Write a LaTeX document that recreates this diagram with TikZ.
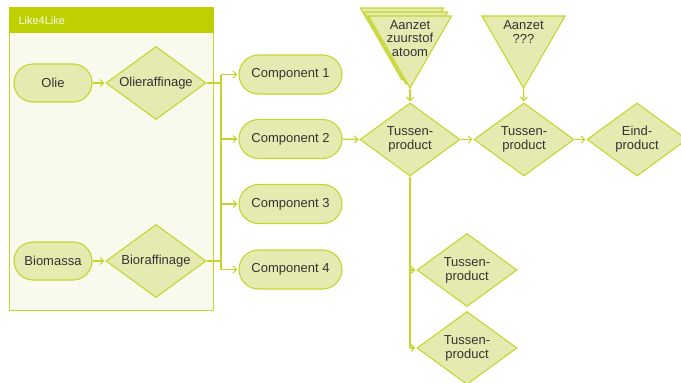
\documentclass[tikz,border=0pt]{standalone}
\usepackage{fontspec}
\setmainfont{Liberation Sans}
\usetikzlibrary{shapes.geometric,arrows.meta}
\definecolor{lime}{HTML}{C6D52E}
\definecolor{limefill}{HTML}{E5EBB0}
\definecolor{header}{HTML}{BFD000}
\definecolor{panel}{HTML}{F9FAEE}
\definecolor{ink}{HTML}{333333}

\begin{document}
\begin{tikzpicture}[x=1pt,y=-1pt,
  font=\fontsize{13}{14}\selectfont, text=ink,
  shape base/.style={draw=lime, fill=limefill, line width=1.1pt, inner sep=0pt},
  pill/.style={shape base, rectangle, rounded corners=19pt, minimum width=78pt, minimum height=38pt},
  comp/.style={shape base, rectangle, rounded corners=19.5pt, minimum width=103pt, minimum height=39pt},
  dia/.style={shape base, diamond, aspect=1.37, minimum width=100pt, minimum height=73pt, align=center},
  tri/.style={shape base, regular polygon, regular polygon sides=3, shape border rotate=180, minimum size=96pt},
  tritext/.style={align=center, font=\fontsize{13}{13.4}\selectfont},
  conn/.style={draw=lime, line width=1.2pt},
  arr/.style={conn, -{Straight Barb[length=3.5pt,width=7pt]}, shorten >=1pt},
]
\useasboundingbox (0,0) rectangle (681,383);
\clip (0,0) rectangle (681,383);

% Like4Like panel
\draw[draw=lime, fill=panel, line width=1pt] (9.5,7.5) rectangle (213,310);
\fill[header] (9,7) rectangle (213.5,33);
\node[anchor=west, text=white!92!header, font=\fontsize{11}{12}\selectfont] (title) at (15,20.5) {Like4Like};

% sources and refineries
\node[pill] (olie) at (53,83) {Olie};
\node[dia]  (olr)  at (156,83) {Olieraffinage};
\node[pill] (bio)  at (53,261) {Biomassa};
\node[dia]  (bior) at (156,261) {Bioraffinage};

% components
\node[comp] (c1) at (290.5,74.5) {Component 1};
\node[comp] (c2) at (290.5,139) {Component 2};
\node[comp] (c3) at (290.5,204) {Component 3};
\node[comp] (c4) at (290.5,269.5) {Component 4};

% intermediate and end products
\node[dia] (tp1)  at (410,139.5) {Tussen-\\product};
\node[dia] (tp2)  at (524,139.5) {Tussen-\\product};
\node[dia] (eind) at (637,139.5) {Eind-\\product};
\node[dia] (tp3)  at (467,270) {Tussen-\\product};
\node[dia] (tp4)  at (467,348) {Tussen-\\product};

% additive triangles (stacked one shows several)
\node[tri] (t1c) at (402,32) {};
\node[tri] (t1b) at (406,36) {};
\node[tri] (t1)  at (410,40) {};
\node[tritext] (t1label) at (410,38.5) {Aanzet\\zuurstof\\atoom};
\node[tri] (t2)  at (523.5,40) {};
\node[tritext] (t2label) at (523.5,32) {Aanzet\\???};

% connectors
\coordinate (bus) at (221,0);
\draw[arr] (olie) -- (olr);
\draw[arr] (bio) -- (bior);
\draw[conn] (olr.east) -- (olr.east -| bus);
\draw[conn] (bior.east) -- (bior.east -| bus);
\draw[conn] (bus |- c1) -- (bus |- c4);
\draw[arr] (bus |- c1) -- (c1.west);
\draw[arr] (bus |- c2) -- (c2.west);
\draw[arr] (bus |- c3) -- (c3.west);
\draw[arr] (bus |- c4) -- (c4.west);

\draw[arr] (c2) -- (tp1);
\draw[arr] (tp1) -- (tp2);
\draw[arr] (tp2) -- (eind);
\draw[arr] (t1.south) -- (tp1.north);
\draw[arr] (t2.south) -- (tp2.north);

\draw[conn] (tp1.south) -- (tp1.south |- tp4);
\draw[arr] (tp1.south |- tp3) -- (tp3.west);
\draw[arr] (tp1.south |- tp4) -- (tp4.west);
\end{tikzpicture}
\end{document}
